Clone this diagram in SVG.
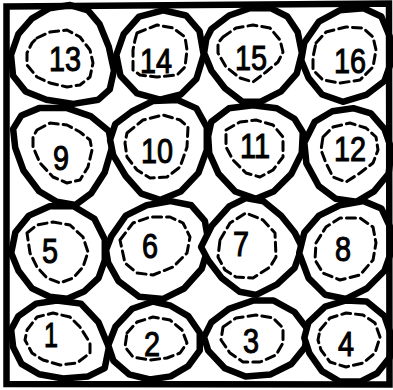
<svg xmlns="http://www.w3.org/2000/svg" width="393" height="390" viewBox="0 0 393 390">
<style>
.b{fill:#fff;stroke:#000;stroke-width:6.5;stroke-linejoin:round;vector-effect:non-scaling-stroke}
.d{fill:none;stroke:#000;stroke-width:3;stroke-dasharray:9 5;stroke-linecap:round;stroke-linejoin:round}
.t{font-family:"Liberation Sans",Arial,sans-serif;font-size:35px;text-anchor:middle;fill:#000;stroke:#000;stroke-width:1.1}
</style>
<rect width="393" height="390" fill="#fff"/>
<g id="connectors"></g>
<g id="n13"><path class="b" transform="translate(63 55) scale(1.04) translate(-63 -55)" d="M33 20 L50 10 70 7 87 12 98 25 107 47 112 70 108 88 97 98 73 102 47 98 27 90 15 75 13 55 20 35Z"/><path class="d" d="M37 38 L50 32 67 30 80 37 90 50 93 63 90 77 80 85 67 87 50 83 37 77 27 65 27 53 32 43Z"/><text class="t" x="65" y="71" textLength="32" lengthAdjust="spacingAndGlyphs">13</text></g>
<g id="n14"><path class="b" transform="translate(160 55) scale(1.04) translate(-160 -55)" d="M125 35 L140 18 163 12 185 17 198 32 202 55 195 78 180 93 160 98 138 92 122 75 118 55Z"/><path class="d" d="M137 33 L157 25 173 28 185 37 187 50 185 67 177 75 157 77 140 75 133 70 133 50 135 40Z"/><text class="t" x="156" y="73" textLength="32" lengthAdjust="spacingAndGlyphs">14</text></g>
<g id="n15"><path class="b" transform="translate(253 55) scale(1.04) translate(-253 -55)" d="M213 30 L230 17 250 10 270 10 286 18 296 33 300 53 295 73 280 90 260 100 243 100 226 87 213 70 206 53 208 40Z"/><path class="d" d="M223 37 L236 28 253 25 270 28 280 40 283 52 278 62 266 72 253 82 240 78 226 67 218 53 218 43Z"/><text class="t" x="251" y="70" textLength="32" lengthAdjust="spacingAndGlyphs">15</text></g>
<g id="n16"><path class="b" transform="translate(347 55) scale(1.04) translate(-347 -55)" d="M306 43 L320 23 340 12 363 10 380 18 388 37 390 60 383 80 366 93 343 100 323 93 310 77 303 60Z"/><path class="d" d="M316 43 L326 32 346 27 363 28 373 37 376 50 373 67 360 80 340 83 323 80 313 70 313 57Z"/><text class="t" x="350" y="73" textLength="32" lengthAdjust="spacingAndGlyphs">16</text></g>
<g id="n9"><path class="b" transform="translate(62 157) scale(1.04) translate(-62 -157)" d="M23 117 L40 110 67 110 90 118 107 132 110 148 103 172 90 192 75 203 57 200 40 190 25 170 17 148 15 130Z"/><path class="d" d="M37 130 L50 123 67 125 80 132 90 140 92 150 88 167 80 180 67 183 53 177 40 163 33 147 33 137Z"/><text class="t" x="61" y="170" textLength="16" lengthAdjust="spacingAndGlyphs">9</text></g>
<g id="n10"><path class="b" transform="translate(160 150) scale(1.04) translate(-160 -150)" d="M117 125 L133 113 153 103 177 102 195 110 205 128 205 150 197 172 180 190 160 198 142 192 127 175 115 155 112 140Z"/><path class="d" d="M127 133 L143 120 163 115 180 120 188 127 187 147 180 167 167 177 150 178 137 170 127 157 125 143Z"/><text class="t" x="157" y="163" textLength="32" lengthAdjust="spacingAndGlyphs">10</text></g>
<g id="n11"><path class="b" transform="translate(256 152) scale(1.04) translate(-256 -152)" d="M213 123 L230 110 253 107 276 110 293 120 301 133 300 153 290 173 273 190 256 197 236 190 220 173 211 153 210 137Z"/><path class="d" d="M226 130 L240 122 256 120 273 125 283 137 283 157 273 170 260 177 246 173 233 160 226 147Z"/><text class="t" x="255" y="158" textLength="30" lengthAdjust="spacingAndGlyphs">11</text></g>
<g id="n12"><path class="b" transform="translate(348 155) scale(1.04) translate(-348 -155)" d="M316 123 L333 113 353 110 370 115 383 130 390 150 387 173 373 190 356 200 336 197 320 185 308 163 306 143Z"/><path class="d" d="M323 137 L333 127 350 123 366 128 376 137 378 150 373 163 360 173 346 182 333 177 326 163 321 150Z"/><text class="t" x="350" y="161" textLength="32" lengthAdjust="spacingAndGlyphs">12</text></g>
<g id="n5"><path class="b" transform="translate(58 252) scale(1.04) translate(-58 -252)" d="M17 233 L30 217 50 208 73 208 93 220 103 240 103 260 97 277 83 290 67 297 50 295 33 287 20 270 13 253Z"/><path class="d" d="M27 233 L37 225 53 222 70 225 83 237 88 252 83 267 73 278 60 283 47 278 37 267 30 253Z"/><text class="t" x="50" y="263" textLength="16" lengthAdjust="spacingAndGlyphs">5</text></g>
<g id="n6"><path class="b" transform="translate(157 250) scale(1.04) translate(-157 -250)" d="M113 237 L127 217 147 207 170 203 190 207 203 222 207 245 200 268 183 287 163 297 140 295 120 280 110 262 108 250Z"/><path class="d" d="M120 240 L133 223 150 217 170 217 183 223 190 237 187 253 173 267 153 275 137 273 125 263Z"/><text class="t" x="150" y="258" textLength="16" lengthAdjust="spacingAndGlyphs">6</text></g>
<g id="n7"><path class="b" transform="translate(251 247) scale(1.04) translate(-251 -247)" d="M213 227 L230 208 246 200 263 203 280 217 293 233 300 247 293 267 276 283 256 293 240 290 223 277 210 260 203 247Z"/><path class="d" d="M220 240 L230 223 246 213 263 220 275 233 276 257 270 267 253 278 236 277 225 270 218 257Z"/><text class="t" x="241" y="256" textLength="16" lengthAdjust="spacingAndGlyphs">7</text></g>
<g id="n8"><path class="b" transform="translate(346 250) scale(1.04) translate(-346 -250)" d="M306 233 L320 217 340 207 363 203 380 210 388 227 390 250 383 270 366 287 346 297 326 293 310 277 301 253Z"/><path class="d" d="M316 243 L326 227 340 218 360 218 373 227 376 243 373 260 360 275 340 280 323 273 315 260Z"/><text class="t" x="343" y="261" textLength="16" lengthAdjust="spacingAndGlyphs">8</text></g>
<g id="n1"><path class="b" transform="translate(60 340) scale(1.04) translate(-60 -340)" d="M20 317 L37 305 57 302 80 305 97 323 107 347 103 367 87 375 63 377 40 373 23 363 15 347 13 330Z"/><path class="d" d="M27 330 L37 317 53 313 70 317 80 327 90 343 90 353 77 363 60 365 43 360 32 353 25 340Z"/><text class="t" x="51" y="347" textLength="14" lengthAdjust="spacingAndGlyphs">1</text></g>
<g id="n2"><path class="b" transform="translate(154 340) scale(1.04) translate(-154 -340)" d="M117 327 L133 310 153 303 170 307 187 317 198 333 198 350 187 365 170 375 150 378 130 373 115 360 110 345Z"/><path class="d" d="M127 333 L137 322 153 317 170 320 182 330 187 343 180 353 167 358 150 360 133 357 125 347Z"/><text class="t" x="152" y="356" textLength="16" lengthAdjust="spacingAndGlyphs">2</text></g>
<g id="n3"><path class="b" transform="translate(256 338) scale(1.04) translate(-256 -338)" d="M213 323 L230 310 253 302 273 302 293 313 306 330 303 347 290 363 270 373 246 375 226 367 210 350 206 337Z"/><path class="d" d="M223 327 L236 318 256 315 273 318 283 328 283 343 276 355 260 362 243 362 230 353 221 340Z"/><text class="t" x="251" y="353" textLength="16" lengthAdjust="spacingAndGlyphs">3</text></g>
<g id="n4"><path class="b" transform="translate(348 341) scale(1.04) translate(-348 -341)" d="M310 323 L326 308 346 302 366 303 383 317 390 337 388 357 376 372 360 380 340 380 323 370 311 353 306 338Z"/><path class="d" d="M320 330 L330 318 346 313 363 315 375 323 380 337 375 353 363 363 346 367 330 362 321 350 318 340Z"/><text class="t" x="346" y="356" textLength="16" lengthAdjust="spacingAndGlyphs">4</text></g>
<g id="frame"><path d="M6.5 6.5 L389 3.5 L389.5 384.5 L6.5 384 Z" fill="none" stroke="#000" stroke-width="6.5" stroke-linejoin="miter"/></g>
</svg>
